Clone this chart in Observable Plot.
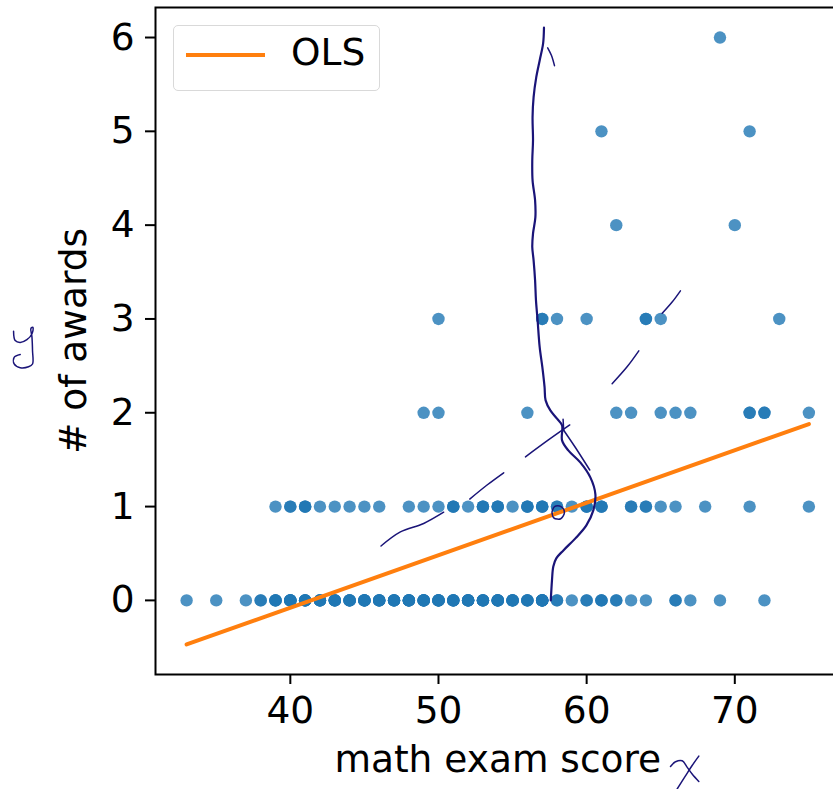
<!DOCTYPE html>
<html>
<head>
<meta charset="utf-8">
<script src="https://cdn.jsdelivr.net/npm/d3@7"></script>
<script src="https://cdn.jsdelivr.net/npm/@observablehq/plot@0.6"></script>
<style>
  html, body { margin: 0; padding: 0; background: #fff; overflow: hidden; }
  #wrap { position: relative; width: 833px; height: 789px; overflow: hidden; }
  #wrap svg { overflow: hidden; display: block; }
  .legend { position: absolute; left: 173px; top: 25px; width: 207px; height: 66px;
    box-sizing: border-box; border: 1.7px solid #d9d9d9; border-radius: 5px; background: #fff; }
  .legend .sw { position: absolute; left: 12px; top: 27px; width: 79px; height: 4px; background: #ff7f0e; }
  .legend .lab { position: absolute; left: 117px; top: 7.6px; font-family: "DejaVu Sans"; font-size: 37.5px;
    line-height: 37.5px; color: #000; white-space: nowrap; }
</style>
</head>
<body>
<div id="wrap">
  <div id="chart"></div>
  <div class="legend"><div class="sw"></div><div class="lab">OLS</div></div>
</div>
<script>
// ---- data ----
// math scores per number of awards, with how many students share each score
const scores0 = [33,35,37,38,39,40,41,42,43,44,45,46,47,48,49,50,51,52,53,54,55,56,57,58,59,60,61,62,63,64,66,67,69,72];
const counts0 = [1,1,1,2,4,6,5,5,5,5,6,5,5,6,6,6,5,6,5,6,5,4,7,2,1,2,3,2,1,1,2,1,1,1];
const scores1 = [39,40,41,42,43,44,45,46,48,49,50,51,52,53,54,55,56,57,58,59,60,61,63,64,65,66,68,71,75];
const counts1 = [1,2,3,1,1,1,1,1,1,1,1,3,1,3,3,1,3,3,2,1,3,3,2,2,1,1,1,1,1];
const scores2 = [49,50,56,62,63,65,66,67,71,72,75];
const counts2 = [1,1,1,1,1,1,1,1,2,2,1];
const scores3 = [50,57,58,60,64,65,73];
const counts3 = [1,2,1,1,2,1,1];
const scores4 = [62,70];
const counts4 = [1,1];
const scores5 = [61,71];
const counts5 = [1,1];
const scores6 = [69];
const counts6 = [1];

// OLS fit line end points
const olsX = [33, 75];
const olsY = [-0.47, 1.88];

const xTicks = [40, 50, 60, 70];
const yTicks = [0, 1, 2, 3, 4, 5, 6];

// hand-drawn annotations (data units)
const sketchCurveX = [57.12,57.06,56.83,56.60,56.42,56.35,56.38,56.33,56.35,56.52,56.54,56.38,56.33,56.42,56.52,56.58,56.69,56.83,57.01,57.16,57.23,57.55,58.00,58.34,58.34,58.76,59.57,60.25,60.59,60.45,59.98,59.24,58.43,57.95,57.75,57.66,57.58];
const sketchCurveY = [6.105,5.934,5.756,5.578,5.365,5.152,4.904,4.690,4.477,4.264,4.086,3.909,3.766,3.624,3.411,3.198,2.985,2.700,2.487,2.274,2.132,2.025,1.937,1.865,1.706,1.599,1.471,1.311,1.130,0.959,0.799,0.661,0.533,0.448,0.362,0.213,0.0];
const sketchStrandX = [58.38,59.24,60.21];
const sketchStrandY = [1.83,1.63,1.39];
const sketchHookX = [57.37,57.62,57.83];
const sketchHookY = [5.89,5.81,5.70];
const sketchTickX = [58.41,58.45];
const sketchTickY = [1.93,1.81];
const sketchLoopX = [57.66,57.83,58.27,58.50,58.25,57.78,57.66];
const sketchLoopY = [0.94,1.00,1.00,0.94,0.87,0.88,0.94];
const dash1X = [46.12,47.43,49.00,50.35];
const dash1Y = [0.58,0.73,0.82,0.94];
const dash2X = [52.11,53.28,54.40];
const dash2Y = [1.08,1.23,1.36];
const dash3X = [55.87,57.42,58.86];
const dash3Y = [1.53,1.71,1.87];
const dash4X = [61.72,62.73,63.52];
const dash4Y = [2.31,2.49,2.66];
const dash5X = [65.10,65.77,66.33];
const dash5Y = [3.06,3.18,3.30];
const glyphYX = [21.32,21.43,21.77,22.22,22.56,22.63,22.49,22.56,22.60,22.60,22.33,21.77,21.36,21.36,21.77];
const glyphYY = [2.87,2.77,2.75,2.78,2.84,2.91,2.90,2.81,2.66,2.52,2.49,2.48,2.52,2.59,2.62];
const glyphXaX = [65.66,66.00,66.45,66.79,67.12,67.57];
const glyphXaY = [-1.77,-1.72,-1.71,-1.78,-1.85,-1.93];
const glyphXbX = [67.57,67.12,66.67,66.11];
const glyphXbY = [-1.66,-1.76,-1.87,-2.01];

// ---- build tables ----
const dots = [];
[[scores0,counts0,0],[scores1,counts1,1],[scores2,counts2,2],[scores3,counts3,3],
 [scores4,counts4,4],[scores5,counts5,5],[scores6,counts6,6]].forEach(([s,c,a]) => {
  s.forEach((v,i) => { for (let k = 0; k < c[i]; k++) dots.push({math: v, awards: a}); });
});
const ols = olsX.map((x,i) => ({x, y: olsY[i]}));
function strokeRows(id, xs, ys) { return xs.map((x,i) => ({id, x, y: ys[i]})); }
const thick = [
  ...strokeRows("curve", sketchCurveX, sketchCurveY)
];
const thin = [
  ...strokeRows("strand", sketchStrandX, sketchStrandY),
  ...strokeRows("hook", sketchHookX, sketchHookY),
  ...strokeRows("tick", sketchTickX, sketchTickY),
  ...strokeRows("loop", sketchLoopX, sketchLoopY),
  ...strokeRows("d1", dash1X, dash1Y),
  ...strokeRows("d2", dash2X, dash2Y),
  ...strokeRows("d3", dash3X, dash3Y),
  ...strokeRows("d4", dash4X, dash4Y),
  ...strokeRows("d5", dash5X, dash5Y),
  ...strokeRows("gy", glyphYX, glyphYY),
  ...strokeRows("gxa", glyphXaX, glyphXaY),
  ...strokeRows("gxb", glyphXbX, glyphXbY)
];
const ink = "#1a1478";

const chart = Plot.plot({
  width: 833, height: 789,
  marginLeft: 155, marginRight: -6.5, marginTop: 7, marginBottom: 115,
  x: {domain: [30.9, 77.1]},
  y: {domain: [-0.79, 6.32]},
  style: {fontFamily: "DejaVu Sans", fontSize: "37.5px", color: "black", background: "white", overflow: "hidden"},
  marks: [
    Plot.dot(dots, {x: "math", y: "awards", r: 6.2, fill: "#1f77b4", fillOpacity: 0.8, stroke: "none"}),
    Plot.line(ols, {x: "x", y: "y", stroke: "#ff7f0e", strokeWidth: 4}),
    Plot.line(thick, {x: "x", y: "y", z: "id", stroke: ink, strokeWidth: 2.2, curve: "catmull-rom"}),
    Plot.line(thin, {x: "x", y: "y", z: "id", stroke: ink, strokeWidth: 1.5, curve: "catmull-rom"}),
    Plot.frame({stroke: "black", strokeWidth: 2}),
    Plot.axisX({ticks: xTicks, tickSize: 10, tickPadding: 12, strokeWidth: 2, label: null, tickFormat: d => String(d)}),
    Plot.axisY({ticks: yTicks, tickSize: 10, tickPadding: 11, strokeWidth: 2, label: null, tickFormat: d => String(d)}),
    Plot.text(["math exam score"], {frameAnchor: "bottom", dy: 97, lineAnchor: "bottom", textAnchor: "middle", text: d => d}),
    Plot.text(["# of awards"], {frameAnchor: "left", dx: -70, rotate: -90, lineAnchor: "bottom", textAnchor: "middle", text: d => d})
  ]
});
document.getElementById("chart").appendChild(chart);
</script>
</body>
</html>
